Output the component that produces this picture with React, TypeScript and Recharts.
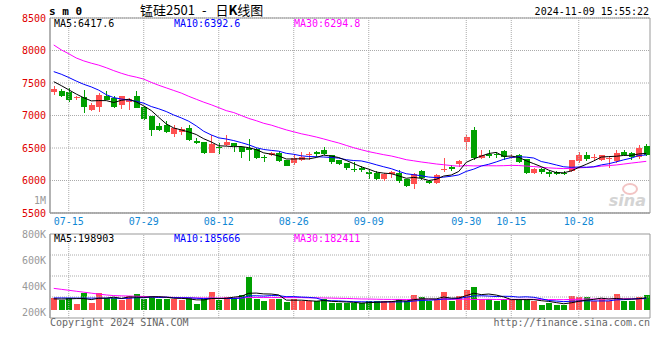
import {
  Bar,
  CartesianGrid,
  Cell,
  ComposedChart,
  Line,
  ReferenceArea,
  ReferenceLine,
  XAxis,
  YAxis,
} from "recharts";

// trading days shown, 07-11 .. 11-08
const DATES = [
  "07-11", "07-12", "07-15", "07-16", "07-17", "07-18", "07-19", "07-22", "07-23", "07-24",
  "07-25", "07-26", "07-29", "07-30", "07-31", "08-01", "08-02", "08-05", "08-06", "08-07",
  "08-08", "08-09", "08-12", "08-13", "08-14", "08-15", "08-16", "08-19", "08-20", "08-21",
  "08-22", "08-23", "08-26", "08-27", "08-28", "08-29", "08-30", "09-02", "09-03", "09-04",
  "09-05", "09-06", "09-09", "09-10", "09-11", "09-12", "09-13", "09-18", "09-19", "09-20",
  "09-23", "09-24", "09-25", "09-26", "09-27", "09-30", "10-08", "10-09", "10-10", "10-11",
  "10-14", "10-15", "10-16", "10-17", "10-18", "10-21", "10-22", "10-23", "10-24", "10-25",
  "10-28", "10-29", "10-30", "10-31", "11-01", "11-04", "11-05", "11-06", "11-07", "11-08",
];

const OPEN = [
  7357, 7383, 7362, 7262, 7288, 7092, 7128, 7306, 7273, 7158,
  7215, 7306, 7128, 6995, 6832, 6852, 6719, 6740, 6803, 6602,
  6590, 6430, 6515, 6546, 6571, 6510, 6500, 6490, 6360, 6390,
  6420, 6316, 6265, 6318, 6385, 6446, 6462, 6385, 6308, 6262,
  6172, 6200, 6125, 6117, 6020, 6100, 6110, 6017, 5940, 6150,
  6000, 5967, 6160, 6210, 6258, 6585, 6770, 6340, 6412, 6412,
  6448, 6345, 6395, 6325, 6108, 6170, 6130, 6130, 6120, 6145,
  6300, 6385, 6350, 6315, 6340, 6300, 6435, 6420, 6362, 6530,
];
const HIGH = [
  7459, 7413, 7424, 7306, 7398, 7194, 7340, 7383, 7306, 7306,
  7262, 7370, 7143, 7000, 6877, 6923, 6847, 6820, 6850, 6655,
  6600, 6700, 6580, 6694, 6582, 6536, 6645, 6500, 6395, 6440,
  6450, 6320, 6385, 6442, 6434, 6450, 6515, 6390, 6320, 6272,
  6280, 6230, 6165, 6140, 6115, 6140, 6160, 6020, 6120, 6168,
  6005, 6105, 6340, 6245, 6322, 6694, 6820, 6465, 6470, 6445,
  6465, 6410, 6405, 6335, 6185, 6195, 6145, 6150, 6140, 6320,
  6435, 6445, 6410, 6400, 6365, 6465, 6465, 6440, 6550, 6560,
];
const LOW = [
  7320, 7290, 7204, 7235, 7038, 7066, 7051, 7232, 7118, 7107,
  7082, 7108, 6928, 6684, 6760, 6735, 6668, 6694, 6610, 6556,
  6403, 6418, 6405, 6530, 6439, 6342, 6301, 6330, 6285, 6378,
  6286, 6220, 6240, 6298, 6315, 6360, 6400, 6255, 6235, 6160,
  6135, 6130, 6026, 6015, 5990, 6040, 5967, 5903, 5875, 6015,
  5940, 5950, 6133, 6148, 6210, 6476, 6310, 6325, 6345, 6350,
  6320, 6325, 6275, 6095, 6095, 6100, 6050, 6090, 6080, 6135,
  6275, 6306, 6310, 6300, 6200, 6270, 6370, 6310, 6325, 6375,
];
const CLOSE = [
  7408, 7296, 7245, 7286, 7128, 7168, 7320, 7245, 7138, 7296,
  7250, 7112, 6945, 6776, 6775, 6745, 6801, 6795, 6620, 6575,
  6420, 6556, 6500, 6592, 6531, 6435, 6465, 6350, 6345, 6428,
  6301, 6229, 6350, 6365, 6415, 6410, 6408, 6283, 6248, 6192,
  6165, 6165, 6100, 6030, 6107, 6125, 5993, 5915, 6100, 6033,
  5960, 6080, 6170, 6178, 6306, 6668, 6340, 6388, 6375, 6390,
  6362, 6365, 6288, 6110, 6170, 6130, 6095, 6100, 6098, 6310,
  6400, 6338, 6360, 6395, 6348, 6426, 6400, 6365, 6500, 6397,
];

const MA5 = [
  7520, 7460, 7395, 7330, 7273, 7225, 7229, 7229, 7200, 7233,
  7250, 7208, 7148, 7076, 6972, 6871, 6808, 6778, 6747, 6707,
  6642, 6593, 6534, 6529, 6520, 6523, 6505, 6475, 6425, 6405,
  6378, 6331, 6331, 6335, 6332, 6354, 6390, 6376, 6353, 6308,
  6259, 6211, 6174, 6130, 6113, 6105, 6071, 6034, 6048, 6033,
  6000, 6018, 6069, 6084, 6139, 6280, 6332, 6376, 6415, 6432,
  6371, 6376, 6356, 6303, 6259, 6213, 6159, 6121, 6119, 6147,
  6201, 6249, 6301, 6361, 6368, 6373, 6386, 6387, 6408, 6417.6,
];
const MA10 = [
  7675, 7635, 7585, 7530, 7480, 7440, 7390, 7320, 7275, 7253,
  7238, 7219, 7189, 7138, 7103, 7061, 7008, 6963, 6912, 6840,
  6757, 6701, 6656, 6638, 6614, 6583, 6549, 6505, 6477, 6463,
  6451, 6418, 6403, 6380, 6369, 6366, 6361, 6354, 6344, 6320,
  6307, 6301, 6275, 6242, 6211, 6182, 6141, 6104, 6089, 6073,
  6053, 6045, 6052, 6066, 6086, 6140, 6175, 6223, 6250, 6286,
  6326, 6354, 6366, 6359, 6346, 6292, 6268, 6239, 6211, 6203,
  6207, 6204, 6211, 6240, 6258, 6287, 6318, 6344, 6385, 6392.6,
];
const MA30 = [
  8085, 8010, 7950, 7885, 7840, 7805, 7775, 7735, 7690, 7650,
  7615, 7590, 7560, 7510, 7465, 7425, 7385, 7345, 7295, 7250,
  7205, 7165, 7120, 7075, 7045, 7000, 6955, 6920, 6880, 6852,
  6815, 6779, 6749, 6719, 6695, 6669, 6639, 6607, 6577, 6540,
  6504, 6473, 6444, 6420, 6397, 6377, 6350, 6320, 6303, 6285,
  6270, 6254, 6243, 6229, 6221, 6229, 6225, 6226, 6227, 6226,
  6228, 6233, 6230, 6222, 6214, 6204, 6194, 6188, 6183, 6187,
  6195, 6200, 6209, 6221, 6229, 6239, 6253, 6268, 6281, 6294.8,
];

const VOLUME = [
  192000, 166000, 192000, 104000, 270000, 114000, 270000, 192000, 192000, 166000,
  229000, 255000, 182000, 229000, 182000, 182000, 182000, 166000, 192000, 104000,
  177000, 291000, 166000, 208000, 192000, 244000, 530000, 182000, 140000, 182000,
  177000, 125000, 177000, 140000, 140000, 140000, 177000, 114000, 114000, 114000,
  114000, 114000, 151000, 140000, 140000, 140000, 182000, 140000, 234000, 203000,
  140000, 182000, 291000, 140000, 218000, 322000, 374000, 182000, 182000, 140000,
  177000, 166000, 182000, 182000, 140000, 88000, 114000, 88000, 88000, 218000,
  203000, 203000, 151000, 182000, 151000, 250000, 151000, 151000, 203000, 240000,
];
const VOL_MA5 = [
  180000, 178000, 180000, 185000, 185000, 169000, 190000, 190000, 208000, 187000,
  210000, 207000, 205000, 212000, 215000, 206000, 191000, 188000, 181000, 165000,
  164000, 186000, 186000, 189000, 207000, 220000, 268000, 271000, 258000, 256000,
  242000, 161000, 160000, 160000, 152000, 144000, 155000, 142000, 137000, 132000,
  127000, 114000, 121000, 127000, 132000, 137000, 151000, 148000, 167000, 180000,
  180000, 180000, 210000, 191000, 194000, 231000, 269000, 247000, 256000, 240000,
  211000, 169000, 169000, 169000, 169000, 152000, 141000, 122000, 104000, 119000,
  142000, 160000, 173000, 191000, 178000, 187000, 177000, 177000, 181000, 198903,
];
const VOL_MA10 = [
  195000, 195000, 194000, 193000, 192000, 192000, 192000, 193000, 194000, 186000,
  190000, 199000, 198000, 210000, 201000, 208000, 199000, 197000, 197000, 190000,
  185000, 189000, 187000, 185000, 186000, 192000, 227000, 229000, 224000, 232000,
  231000, 215000, 216000, 209000, 204000, 193000, 158000, 151000, 149000, 142000,
  136000, 135000, 132000, 132000, 132000, 132000, 133000, 135000, 147000, 156000,
  159000, 166000, 179000, 179000, 187000, 206000, 225000, 229000, 224000, 217000,
  221000, 219000, 208000, 213000, 205000, 182000, 155000, 146000, 137000, 144000,
  147000, 151000, 148000, 148000, 149000, 165000, 169000, 175000, 186000, 185666,
];
const VOL_MA30 = [
  345000, 330000, 315000, 300000, 285000, 270000, 255000, 242000, 232000, 228000,
  225000, 222000, 218000, 214000, 210000, 206000, 203000, 200000, 197000, 195000,
  194000, 194000, 193000, 193000, 193000, 194000, 202000, 202000, 201000, 202000,
  201000, 200000, 200000, 201000, 196000, 197000, 194000, 192000, 189000, 187000,
  183000, 179000, 178000, 175000, 173000, 172000, 172000, 171000, 172000, 176000,
  175000, 171000, 175000, 173000, 174000, 176000, 171000, 171000, 173000, 171000,
  171000, 173000, 173000, 174000, 174000, 172000, 170000, 169000, 168000, 172000,
  175000, 178000, 178000, 179000, 180000, 183000, 182000, 183000, 182000, 182411,
];

const DATE_TICKS = ["07-15", "07-29", "08-12", "08-26", "09-09", "09-30", "10-15", "10-28"];
const PRICE_TICKS = [5500, 6000, 6500, 7000, 7500, 8000, 8500];
const VOL_TICKS = [200000, 400000, 600000, 800000];

const RED = "#ff5050";
const GREEN = "#00a000";
const GRID = "#aaaaaa";
const AXIS = "#999999";
const MONO = "'DejaVu Sans Mono', monospace";

// bars stand a little above the panel floor, so the domain dips below zero
const VOL_DOMAIN = [-119000, 1196000];
// sina's volume labels do not sit on the bar scale; they get their own axis
const VOL_LABEL_DOMAIN = [160000, 800000];
const VOL_GRID = [1, 2, 3].map((k) => VOL_DOMAIN[0] + ((VOL_DOMAIN[1] - VOL_DOMAIN[0]) * k) / 4);

const rows = DATES.map((date, i) => ({
  date,
  open: OPEN[i],
  high: HIGH[i],
  low: LOW[i],
  close: CLOSE[i],
  ma5: MA5[i],
  ma10: MA10[i],
  ma30: MA30[i],
  vol: VOLUME[i],
  vma5: VOL_MA5[i],
  vma10: VOL_MA10[i],
  vma30: VOL_MA30[i],
}));

const last = rows.length - 1;

function Candle(props: any) {
  const { x, y, width, height, payload } = props;
  const { open, close, high, low } = payload;
  const toY = (v: number) => y + ((high - v) / (high - low)) * height;
  const color = close >= open ? RED : GREEN;
  const cx = Math.floor(x + width / 2) + 0.5;
  const top = toY(Math.max(open, close));
  const bottom = toY(Math.min(open, close));
  return (
    <g shapeRendering="crispEdges">
      <line x1={cx} x2={cx} y1={y} y2={y + height} stroke={color} strokeWidth={1} />
      <rect x={x} y={top} width={width} height={Math.max(1, bottom - top)} fill={color} />
    </g>
  );
}

const maLine = (key: string, color: string, axis?: string) => (
  <Line
    key={key}
    yAxisId={axis ?? 0}
    type="linear"
    dataKey={key}
    stroke={color}
    strokeWidth={1}
    dot={false}
    activeDot={false}
    isAnimationActive={false}
  />
);

export default function App() {
  return (
    <div style={{ position: "absolute", left: 0, top: 0, width: 660, height: 360, background: "#fff" }}>
      <div style={{ position: "absolute", left: 0, top: 0 }}>
        <ComposedChart width={660} height={233} data={rows} margin={{ top: 18, right: 10, bottom: 0, left: 0 }}>
          <CartesianGrid vertical={false} stroke={GRID} strokeDasharray="1 1" />
          {DATE_TICKS.map((d) => (
            <ReferenceLine key={d} x={d} stroke={GRID} strokeDasharray="1 1" />
          ))}
          <XAxis
            dataKey="date"
            ticks={DATE_TICKS}
            interval={0}
            height={20}
            tickLine={false}
            tickSize={0}
            tickMargin={5}
            axisLine={{ stroke: AXIS }}
            tick={{ fill: "#1088d4", fontSize: 10, fontFamily: MONO }}
          />
          <YAxis
            type="number"
            domain={[5500, 8500]}
            ticks={PRICE_TICKS}
            allowDataOverflow
            width={50}
            tickLine={false}
            tickSize={0}
            tickMargin={4}
            axisLine={{ stroke: AXIS }}
            tick={{ fill: "#e00000", fontSize: 10, fontFamily: MONO }}
          />
          <Bar dataKey={(d: any) => [d.low, d.high]} barSize={6} shape={<Candle />} isAnimationActive={false} />
          {maLine("ma30", "#ff00ff")}
          {maLine("ma10", "#0000ff")}
          {maLine("ma5", "#000000")}
          <ReferenceArea y1={5500} y2={8500} fill="none" stroke={AXIS} />
        </ComposedChart>
      </div>

      <div style={{ position: "absolute", left: 0, top: 0 }}>
        <ComposedChart width={660} height={360} data={rows} margin={{ top: 234, right: 10, bottom: 42, left: 0 }}>
          {DATE_TICKS.map((d) => (
            <ReferenceLine key={d} yAxisId="vol" x={d} stroke={GRID} strokeDasharray="1 1" />
          ))}
          {VOL_GRID.map((v) => (
            <ReferenceLine key={v} yAxisId="vol" y={v} stroke={GRID} strokeDasharray="1 1" />
          ))}
          <XAxis dataKey="date" hide />
          <YAxis yAxisId="vol" type="number" domain={VOL_DOMAIN} allowDataOverflow hide />
          <YAxis
            yAxisId="label"
            type="number"
            domain={VOL_LABEL_DOMAIN}
            ticks={VOL_TICKS}
            allowDataOverflow
            width={50}
            tickLine={false}
            tickSize={0}
            tickMargin={4}
            axisLine={{ stroke: AXIS }}
            tickFormatter={(v: number) => `${v / 1000}K`}
            tick={{ fill: "#999999", fontSize: 10, fontFamily: MONO }}
          />
          <Bar yAxisId="vol" dataKey="vol" barSize={6} isAnimationActive={false} shapeRendering="crispEdges">
            {rows.map((r, i) => (
              <Cell key={i} fill={r.close >= r.open ? RED : GREEN} />
            ))}
          </Bar>
          {maLine("vma30", "#ff00ff", "vol")}
          {maLine("vma10", "#0000ff", "vol")}
          {maLine("vma5", "#000000", "vol")}
          <ReferenceArea yAxisId="vol" y1={VOL_DOMAIN[0]} y2={VOL_DOMAIN[1]} fill="none" stroke={AXIS} />
        </ComposedChart>
      </div>

      <svg width={660} height={360} style={{ position: "absolute", left: 0, top: 0, pointerEvents: "none" }}>
        <text x={49} y={15} fontFamily={MONO} fontSize={11} fontWeight="bold" fill="#000">s m 0</text>
        <text x={140} y={15} fontFamily="'Noto Sans CJK SC', sans-serif" fontSize={13} fill="#000">
          <tspan>锰硅2501</tspan>
          <tspan dx={7}>-</tspan>
          <tspan dx={9}>日</tspan>
          <tspan fontWeight="bold">K</tspan>
          <tspan>线图</tspan>
        </text>
        <text x={649} y={15} textAnchor="end" fontFamily={MONO} fontSize={10} fill="#000">2024-11-09 15:55:22</text>

        <text y={27} fontFamily={MONO} fontSize={10}>
          <tspan x={54} fill="#000">MA5:{MA5[last].toFixed(1)}</tspan>
          <tspan x={174} fill="#0000ff">MA10:{MA10[last].toFixed(1)}</tspan>
          <tspan x={294} fill="#ff00ff">MA30:{MA30[last].toFixed(1)}</tspan>
        </text>
        <text x={46} y={204} textAnchor="end" fontFamily={MONO} fontSize={10} fill="#999">1M</text>

        <text y={242} fontFamily={MONO} fontSize={10}>
          <tspan x={54} fill="#000">MA5:{VOL_MA5[last]}</tspan>
          <tspan x={174} fill="#0000ff">MA10:{VOL_MA10[last]}</tspan>
          <tspan x={294} fill="#ff00ff">MA30:{VOL_MA30[last]}</tspan>
        </text>

        <ellipse cx={630} cy={189} rx={7} ry={5} fill="none" stroke="#f2c4c4" strokeWidth={2} />
        <text x={646} y={206} textAnchor="end" fontFamily="'DejaVu Sans', sans-serif" fontSize={16} fontStyle="italic" fontWeight="bold" fill="#d4d4d4">
          sina
        </text>

        <text x={50} y={326} fontFamily={MONO} fontSize={10} fill="#666">Copyright 2024 SINA.COM</text>
        <text x={650} y={326} textAnchor="end" fontFamily={MONO} fontSize={10} fill="#666">http://finance.sina.com.cn</text>
      </svg>
    </div>
  );
}
